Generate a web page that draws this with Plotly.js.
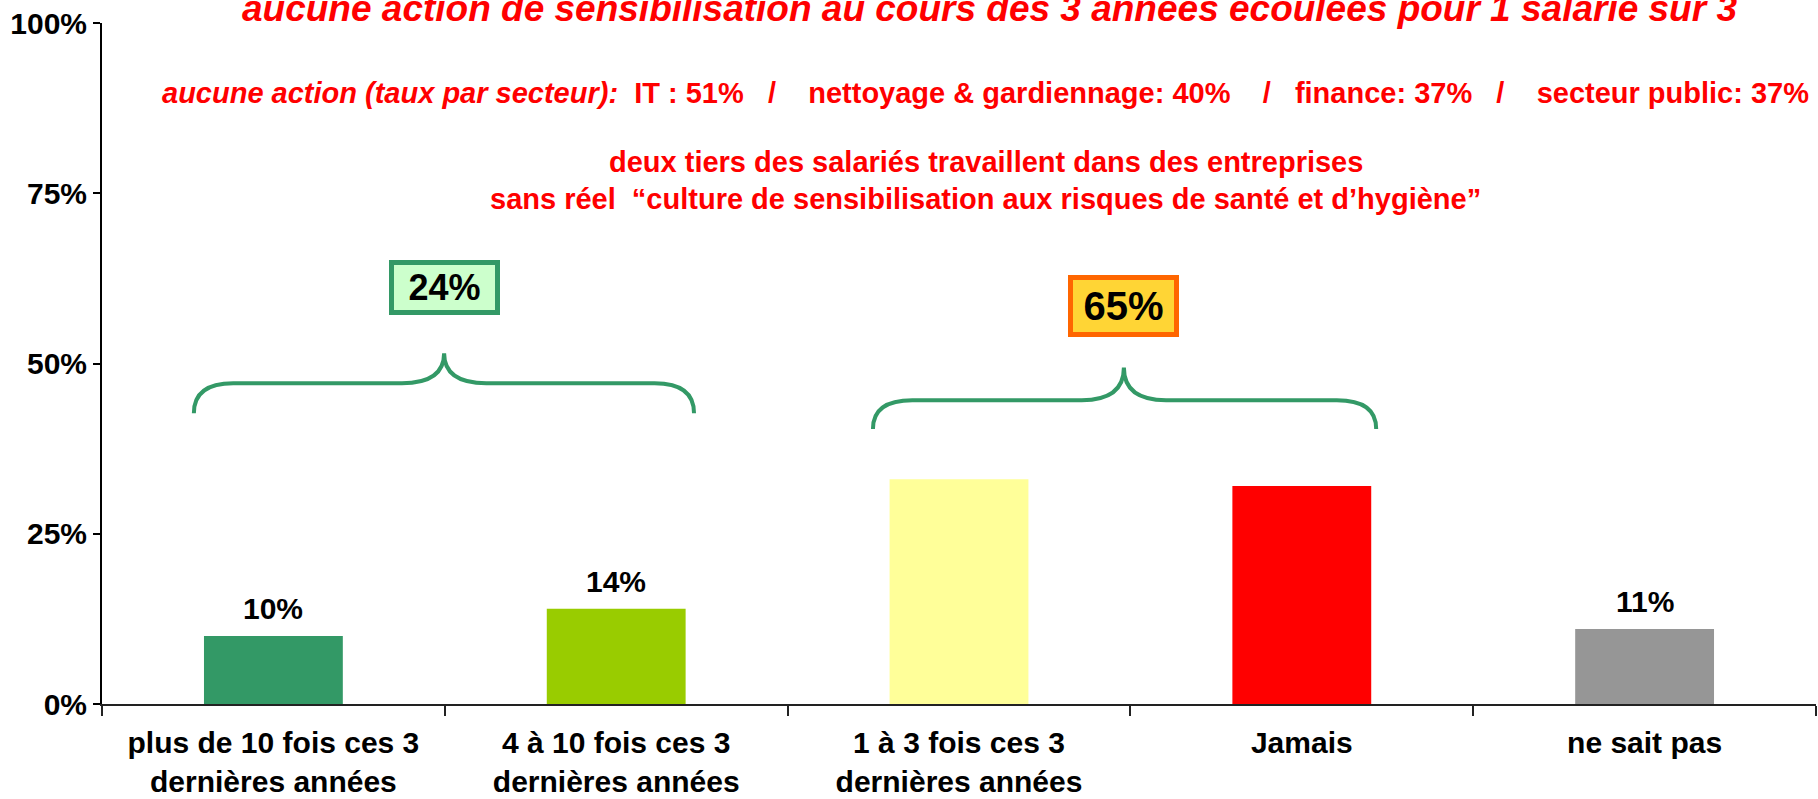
<!DOCTYPE html>
<html><head><meta charset="utf-8">
<script src="https://cdn.plot.ly/plotly-3.0.1.min.js"></script>
<style>html,body{margin:0;padding:0;background:#fff}#chart{width:1818px;height:799px}</style>
</head><body><div id="chart"></div>
<script>
// ---- data ----
const categories = [
  "plus de 10 fois ces 3<br>dernières années",
  "4 à 10 fois ces 3<br>dernières années",
  "1 à 3 fois ces 3<br>dernières années",
  "Jamais",
  "ne sait pas"
];
const values = [10, 14, 33, 32, 11];
const showValueLabel = [true, true, false, false, true];
const barColors = ["#339966", "#99CC00", "#FFFF99", "#FF0000", "#969696"];
const yTickVals = [0, 25, 50, 75, 100];
const yTickText = ["0%", "25%", "50%", "75%", "100%"];
const groupLabels = ["24%", "65%"];
const sectorNames = ["IT ", "nettoyage &amp; gardiennage", "finance", "secteur public"];
const sectorRates = [51, 40, 37, 37];
const titleLine1 = "aucune action de sensibilisation au cours des 3 années écoulées pour 1 salarié sur 3";
const titleLine3 = "deux tiers des salariés travaillent dans des entreprises";
const titleLine4 = "sans réel  “culture de sensibilisation aux risques de santé et d’hygiène”";

// ---- styling ----
const FONT = "Arial, 'Liberation Sans', sans-serif";
const RED = "#FF0000";
const GREEN = "#339966";
const nb = n => "\u00A0".repeat(n);

const sep = [nb(3) + "/" + nb(4), nb(4) + "/" + nb(3), nb(3) + "/" + nb(4)];
let line2 = "<i>aucune action (taux par secteur):</i>" + nb(2);
sectorNames.forEach((s, i) => {
  line2 += s + ": " + sectorRates[i] + "%";
  if (i < sep.length) line2 += sep[i];
});

const nCat = categories.length;
const px = c => (c + 0.5) / nCat; // category index -> paper x

function bracePath(x0, xt, x1, yE, yH, yT, c, d) {
  const X = v => px(v).toFixed(5);
  return `M ${X(x0)},${yE} Q ${X(x0)},${yH} ${X(x0 + c)},${yH} ` +
         `L ${X(xt - d)},${yH} Q ${X(xt)},${yH} ${X(xt)},${yT} ` +
         `Q ${X(xt)},${yH} ${X(xt + d)},${yH} ` +
         `L ${X(x1 - c)},${yH} Q ${X(x1)},${yH} ${X(x1)},${yE}`;
}

const braces = [
  {x0: -0.232, xt: 0.498, x1: 1.227, yE: 42.7, yH: 47.1, yT: 51.5},
  {x0: 1.749, xt: 2.481, x1: 3.217, yE: 40.4, yH: 44.6, yT: 49.4}
];
const boxes = [
  {y: 61.2, h: 45, size: 36, bg: "#CCFFCC", border: GREEN},
  {y: 58.4, h: 52, size: 40, bg: "#FFD535", border: "#FF6600"}
];

const shapes = braces.map(b => ({
  type: "path", xref: "paper", yref: "y", layer: "above",
  path: bracePath(b.x0, b.xt, b.x1, b.yE, b.yH, b.yT, 0.115, 0.123),
  line: {color: GREEN, width: 4}
}));

const annotations = [];
values.forEach((v, i) => {
  if (!showValueLabel[i]) return;
  annotations.push({
    x: categories[i], y: v, xref: "x", yref: "y",
    text: v + "%", showarrow: false, yanchor: "bottom", yshift: 9,
    font: {family: FONT, size: 30, color: "#000", weight: "bold"}
  });
});
braces.forEach((b, i) => {
  annotations.push({
    x: px(b.xt), y: boxes[i].y, xref: "paper", yref: "y",
    text: groupLabels[i], showarrow: false, xanchor: "center", yanchor: "middle",
    width: 101, height: boxes[i].h, borderpad: 0, borderwidth: 5,
    bgcolor: boxes[i].bg, bordercolor: boxes[i].border,
    font: {family: FONT, size: boxes[i].size, color: "#000", weight: "bold"}
  });
});
annotations.push({
  x: 0.518, y: 1.022, xref: "paper", yref: "paper", showarrow: false,
  xanchor: "center", yanchor: "middle", text: "<i>" + titleLine1 + "</i>",
  font: {family: FONT, size: 37, color: RED, weight: "bold"}
});
annotations.push({
  x: 0.5152, y: 0.897, xref: "paper", yref: "paper", showarrow: false,
  xanchor: "center", yanchor: "middle", text: line2,
  font: {family: FONT, size: 29, color: RED, weight: "bold"}
});
annotations.push({
  x: 0.516, y: 0.796, xref: "paper", yref: "paper", showarrow: false,
  xanchor: "center", yanchor: "middle", text: titleLine3,
  font: {family: FONT, size: 29, color: RED, weight: "bold"}
});
annotations.push({
  x: 0.5155, y: 0.7416, xref: "paper", yref: "paper", showarrow: false,
  xanchor: "center", yanchor: "middle", text: titleLine4.replace("  ", nb(2)),
  font: {family: FONT, size: 29, color: RED, weight: "bold"}
});

const trace = {
  type: "bar", x: categories, y: values, width: 0.405,
  marker: {color: barColors, line: {width: 0}},
  hoverinfo: "none"
};

const layout = {
  width: 1818, height: 799,
  margin: {l: 102, r: 2, t: 23, b: 95},
  paper_bgcolor: "#fff", plot_bgcolor: "#fff",
  showlegend: false,
  font: {family: FONT, color: "#000"},
  xaxis: {
    type: "category", range: [-0.5, 4.5], tickson: "boundaries",
    ticks: "outside", ticklen: 10, tickwidth: 2, tickcolor: "#222",
    showline: true, linecolor: "#222", linewidth: 2, showgrid: false,
    ticklabelstandoff: 11,
    tickfont: {family: FONT, size: 30, color: "#000", weight: "bold"},
    fixedrange: true
  },
  yaxis: {
    range: [0, 100], tickvals: yTickVals, ticktext: yTickText,
    ticks: "outside", ticklen: 7, tickwidth: 2, tickcolor: "#000",
    showline: true, linecolor: "#000", linewidth: 2, showgrid: false, zeroline: false,
    tickfont: {family: FONT, size: 30, color: "#000", weight: "bold"},
    fixedrange: true
  },
  shapes: shapes,
  annotations: annotations
};

Plotly.newPlot("chart", [trace], layout, {displayModeBar: false, staticPlot: true});
</script>
</body></html>
